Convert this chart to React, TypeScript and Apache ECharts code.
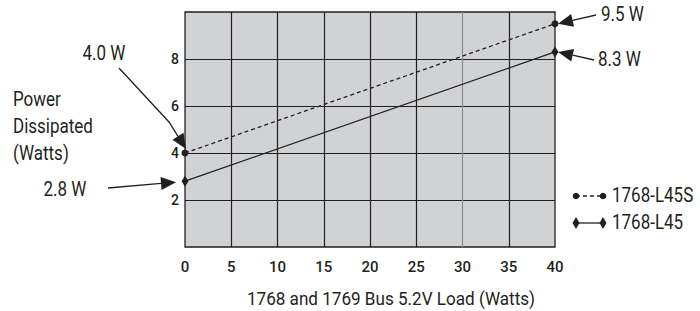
import React, { useEffect, useRef } from "react";
import * as echarts from "echarts";

const loads = [0, 40];
const l45s = [4.0, 9.5];
const l45 = [2.8, 8.3];
const xTicks = [0, 5, 10, 15, 20, 25, 30, 35, 40];
const yTicks = [2, 4, 6, 8];
const seriesNames = ["1768-L45S", "1768-L45"];
const pointLabels = ["4.0 W", "9.5 W", "2.8 W", "8.3 W"];
const yTitle = ["Power", "Dissipated", "(Watts)"];
const xTitle = "1768 and 1769 Bus 5.2V Load (Watts)";

const FONT = "Roboto, sans-serif";
const INK = "#231f20";
const SQ = 0.85;

function arrow(pts: number[][], headLen = 15, headW = 13) {
  const tip = pts[pts.length - 1];
  const prev = pts[pts.length - 2];
  let dx = tip[0] - prev[0];
  let dy = tip[1] - prev[1];
  const len = Math.hypot(dx, dy) || 1;
  dx /= len;
  dy /= len;
  const base = [tip[0] - dx * headLen, tip[1] - dy * headLen];
  const nx = -dy, ny = dx;
  const linePts = pts.slice(0, -1).concat([base]);
  return [
    {
      type: "polyline",
      shape: { points: linePts },
      style: { stroke: INK, lineWidth: 1.3, fill: null },
      silent: true,
    },
    {
      type: "polygon",
      shape: {
        points: [
          tip,
          [base[0] + (nx * headW) / 2, base[1] + (ny * headW) / 2],
          [base[0] - (nx * headW) / 2, base[1] - (ny * headW) / 2],
        ],
      },
      style: { fill: INK },
      silent: true,
    },
  ];
}

export default function App() {
  const ref = useRef<HTMLDivElement>(null);
  useEffect(() => {
    if (!ref.current) return;
    const chart = echarts.init(ref.current, null, { renderer: "svg" });
    const option: any = {
      animation: false,
      backgroundColor: "#ffffff",
      textStyle: { fontFamily: FONT, color: INK },
      grid: {
        left: 185,
        right: 145,
        top: 12,
        bottom: 64,
        show: true,
        backgroundColor: "#d1d2d4",
        borderColor: INK,
        borderWidth: 1.3,
      },
      xAxis: {
        type: "value",
        min: 0,
        max: 40,
        interval: 5,
        axisLine: { show: false },
        axisTick: { show: false },
        axisLabel: {
          color: INK,
          fontSize: 15,
          fontWeight: 500,
          fontFamily: FONT,
          margin: 12,
          formatter: (v: number) => (xTicks.includes(v) ? String(v) : ""),
        },
        splitLine: {
          show: true,
          showMinLine: false,
          showMaxLine: false,
          lineStyle: {
            color: [INK, INK, INK, INK, INK, "#8c8c8c", INK],
            width: 1.2,
          },
        },
      },
      yAxis: {
        type: "value",
        min: 0,
        max: 10,
        interval: 2,
        axisLine: { show: false },
        axisTick: { show: false },
        axisLabel: {
          color: INK,
          fontSize: 14,
          fontWeight: 500,
          fontFamily: FONT,
          margin: 6,
          verticalAlign: "middle",
          formatter: (v: number) => (yTicks.includes(v) ? String(v) : ""),
        },
        splitLine: {
          show: true,
          showMinLine: false,
          showMaxLine: false,
          lineStyle: { color: INK, width: 1.2 },
        },
      },
      series: [
        {
          name: seriesNames[0],
          type: "line",
          data: loads.map((x, i) => [x, l45s[i]]),
          symbol: "circle",
          symbolSize: 7,
          itemStyle: { color: INK },
          lineStyle: { color: INK, width: 1.3, type: [4, 3] },
          z: 5,
        },
        {
          name: seriesNames[1],
          type: "line",
          data: loads.map((x, i) => [x, l45[i]]),
          symbol: "diamond",
          symbolSize: [7, 11],
          itemStyle: { color: INK },
          lineStyle: { color: INK, width: 1.3, type: "solid" },
          z: 5,
        },
      ],
    };
    chart.setOption(option);

    const p = (x: number, y: number) => chart.convertToPixel({ gridIndex: 0 }, [x, y]) as number[];
    const pS0 = p(loads[0], l45s[0]);
    const pS1 = p(loads[1], l45s[1]);
    const pL0 = p(loads[0], l45[0]);
    const pL1 = p(loads[1], l45[1]);

    const txt = (x: number, y: number, text: string, size: number, align: string, sq = SQ) => ({
      type: "text",
      x,
      y,
      scaleX: sq,
      silent: true,
      style: { fill: INK, fontSize: size, fontFamily: FONT, text, align, verticalAlign: "middle" },
    });

    const graphic: any[] = [
      ...arrow([[119, 68], [169, 122], [pS0[0] + 1, pS0[1] - 4]]),
      ...arrow([[108, 188], [pL0[0] - 9, pL0[1] + 1]]),
      ...arrow([[596, 15], [pS1[0] + 3, pS1[1]]]),
      ...arrow([[594, 60], [pL1[0] + 3, pL1[1]]]),
      txt(104, 54, pointLabels[0], 20, "center"),
      txt(601, 15, pointLabels[1], 20, "left"),
      txt(65, 190, pointLabels[2], 20, "center"),
      txt(598, 60, pointLabels[3], 20, "left"),
      ...yTitle.map((t, i) => txt(13, 100 + i * 27, t, 20, "left")),
      txt(391, 298, xTitle, 19, "center", 0.9),
      // legend
      { type: "line", shape: { x1: 576, y1: 196, x2: 603, y2: 196 }, style: { stroke: INK, lineWidth: 1.3, lineDash: [4, 3] } },
      { type: "circle", shape: { cx: 576, cy: 196, r: 3.3 }, style: { fill: INK } },
      { type: "circle", shape: { cx: 603, cy: 196, r: 3.3 }, style: { fill: INK } },
      txt(612, 196, seriesNames[0], 20, "left"),
      { type: "line", shape: { x1: 576, y1: 223, x2: 603, y2: 223 }, style: { stroke: INK, lineWidth: 1.3 } },
      { type: "polygon", shape: { points: [[576, 217], [579.5, 223], [576, 229], [572.5, 223]] }, style: { fill: INK } },
      { type: "polygon", shape: { points: [[603, 217], [606.5, 223], [603, 229], [599.5, 223]] }, style: { fill: INK } },
      txt(612, 223, seriesNames[1], 20, "left"),
    ];
    chart.setOption({ graphic });

    return () => chart.dispose();
  }, []);
  return (
    <div
      ref={ref}
      style={{ position: "absolute", left: 0, top: 0, width: 700, height: 311 }}
    />
  );
}
